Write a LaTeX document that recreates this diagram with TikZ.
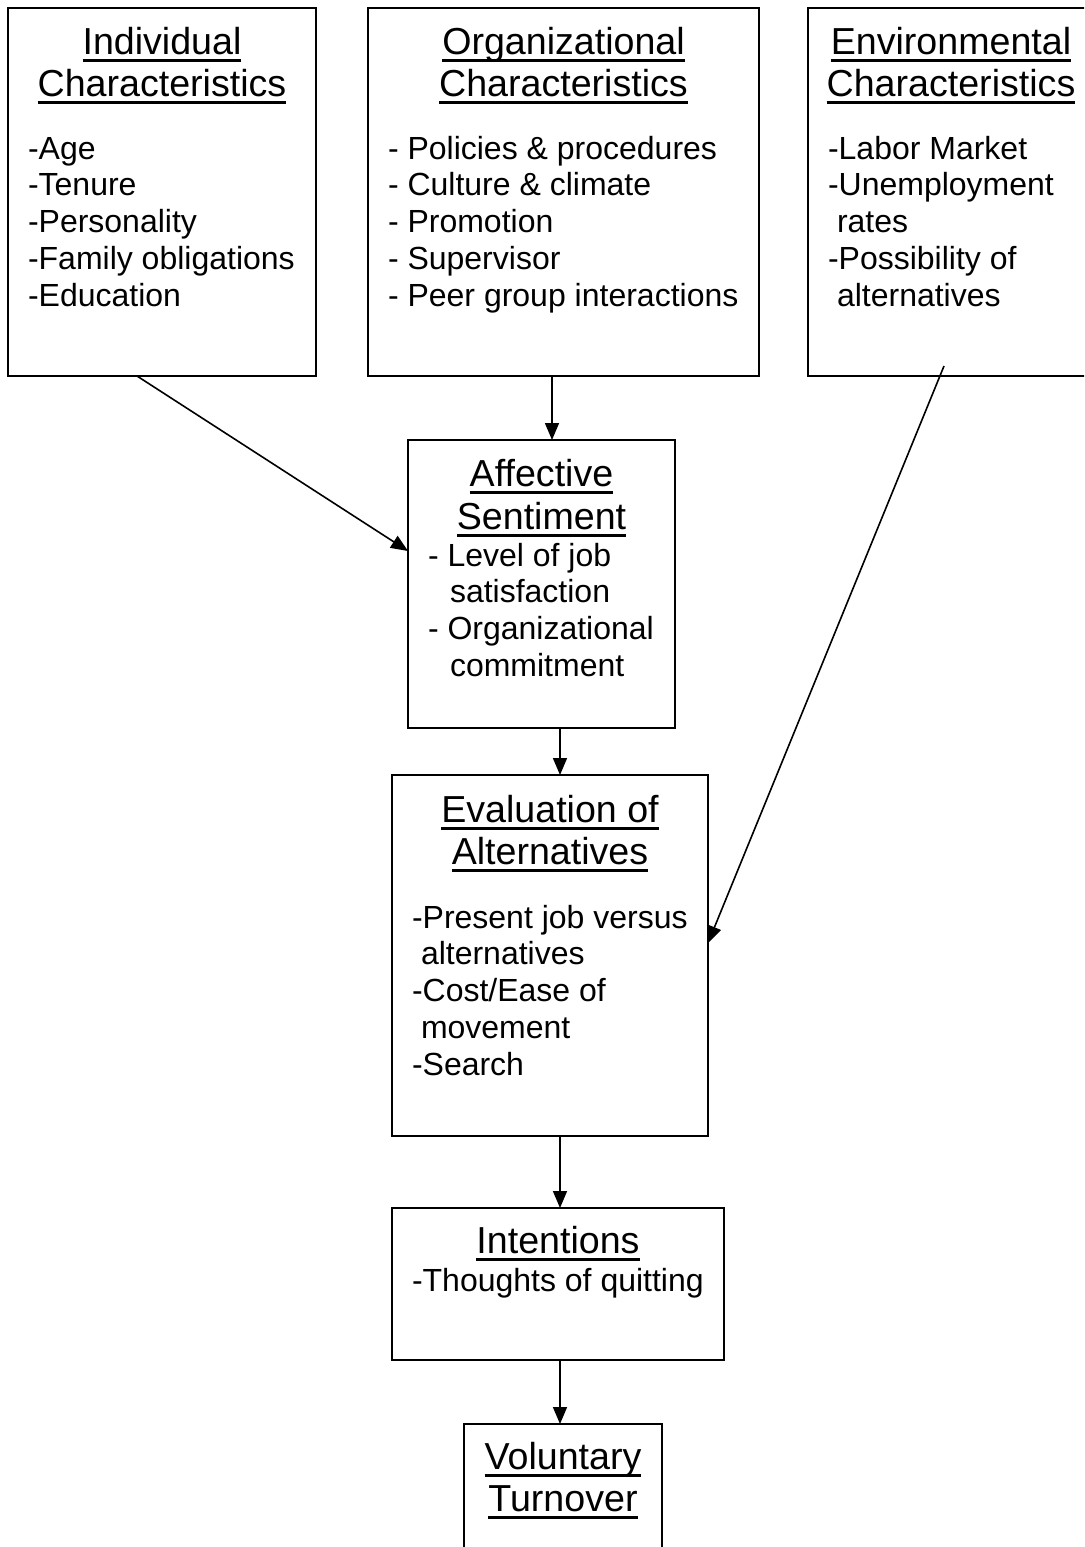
\documentclass[tikz,border=0pt]{standalone}
\usepackage{fontspec}
\setmainfont{Liberation Sans}
\usetikzlibrary{arrows.meta,calc}
\newcommand{\ulx}[1]{\setbox0\hbox{#1}\rlap{\rule[-7.8pt]{\wd0}{2.9pt}}\box0}
\newcommand{\ttlfont}{\fontsize{37.6}{42}\selectfont}
\newcommand{\affttlfont}{\fontsize{37.6}{43}\selectfont}
\newcommand{\lstfont}{\fontsize{32}{36.8}\selectfont}
\begin{document}
\begin{tikzpicture}[x=1pt,y=-1pt,
  box/.style={draw,line width=2pt,inner sep=0pt,outer sep=0pt,anchor=north west},
  txt/.style={inner sep=0pt,outer sep=0pt,anchor=base west},
  ttlnode/.style={inner sep=0pt,outer sep=0pt,anchor=base},
  arr/.style={line width=1.6pt,-{Triangle[length=17pt,width=14pt]}}]
\useasboundingbox (0,0) rectangle (1084,1547);
\clip (0,0) rectangle (1084,1547);
\fill[white] (0,0) rectangle (1084,1547);
% boxes
\node[box,minimum width=308pt,minimum height=368pt] (ind) at (8,8) {};
\node[box,minimum width=391pt,minimum height=368pt] (org) at (368,8) {};
\node[box,minimum width=286pt,minimum height=368pt] (env) at (808,8) {};
\node[box,minimum width=267pt,minimum height=288pt] (aff) at (408,440) {};
\node[box,minimum width=316pt,minimum height=361pt] (eval) at (392,775) {};
\node[box,minimum width=332pt,minimum height=152pt] (int) at (392,1208) {};
\node[box,minimum width=198pt,minimum height=150pt] (vol) at (464,1424) {};
% titles
\node[ttlnode] (indT) at (162,54) {\ttlfont\begin{tabular}[t]{@{}c@{}}\ulx{Individual}\\\ulx{Characteristics}\end{tabular}};
\node[ttlnode] (orgT) at (563.5,54) {\ttlfont\begin{tabular}[t]{@{}c@{}}\ulx{Organizational}\\\ulx{Characteristics}\end{tabular}};
\node[ttlnode] (envT) at (951,54) {\ttlfont\begin{tabular}[t]{@{}c@{}}\ulx{Environmental}\\\ulx{Characteristics}\end{tabular}};
\node[ttlnode] (affT) at (541.5,486) {\affttlfont\begin{tabular}[t]{@{}c@{}}\ulx{Affective}\\\ulx{Sentiment}\end{tabular}};
\node[ttlnode] (evalT) at (550,822) {\ttlfont\begin{tabular}[t]{@{}c@{}}\ulx{Evaluation of}\\\ulx{Alternatives}\end{tabular}};
\node[ttlnode] (intT) at (558,1253) {\ttlfont\ulx{Intentions}};
\node[ttlnode] (volT) at (563,1469) {\ttlfont\begin{tabular}[t]{@{}c@{}}\ulx{Voluntary}\\\ulx{Turnover}\end{tabular}};
% lists
\node[txt] (indL) at (28,159) {\lstfont\begin{tabular}[t]{@{}l@{}}-Age\\-Tenure\\-Personality\\-Family obligations\\-Education\end{tabular}};
\node[txt] (orgL) at (388,159) {\lstfont\begin{tabular}[t]{@{}l@{}}- Policies \& procedures\\- Culture \& climate\\- Promotion\\- Supervisor\\- Peer group interactions\end{tabular}};
\node[txt] (envL) at (828,159) {\lstfont\begin{tabular}[t]{@{}l@{}}-Labor Market\\-Unemployment\\\hspace*{9pt}rates\\-Possibility of\\\hspace*{9pt}alternatives\end{tabular}};
\node[txt] (affL) at (428,566) {\lstfont\begin{tabular}[t]{@{}l@{}}- Level of job\\\hspace*{22pt}satisfaction\\- Organizational\\\hspace*{22pt}commitment\end{tabular}};
\node[txt] (evalL) at (412,928) {\lstfont\begin{tabular}[t]{@{}l@{}}-Present job versus\\\hspace*{9pt}alternatives\\-Cost/Ease of\\\hspace*{9pt}movement\\-Search\end{tabular}};
\node[txt] (intL) at (412,1291) {\lstfont -Thoughts of quitting};
% connectors
\coordinate (spineA) at (552,0);
\coordinate (spineB) at (560,0);
\draw[arr] (org.south -| spineA) -- (aff.north -| spineA);
\draw[arr] (aff.south -| spineB) -- (eval.north -| spineB);
\draw[arr] (eval.south -| spineB) -- (int.north -| spineB);
\draw[arr] (int.south -| spineB) -- (vol.north -| spineB);
\draw[arr] ($(ind.south west)+(129,0)$) -- ($(aff.north west)+(0,111)$);
\draw[arr] ($(env.south west)+(136,-10)$) -- ($(eval.north east)+(0,168)$);
\end{tikzpicture}
\end{document}
